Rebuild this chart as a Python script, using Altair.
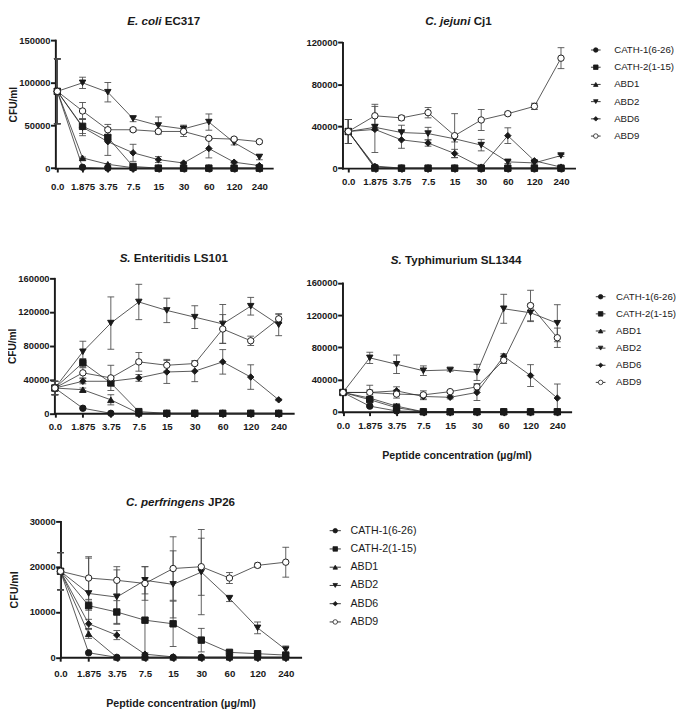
import altair as alt
import pandas as pd

X_LABELS = ["0.0", "1.875", "3.75", "7.5", "15", "30", "60", "120", "240"]
SERIES = ["CATH-1(6-26)", "CATH-2(1-15)", "ABD1", "ABD2", "ABD6", "ABD9"]

# ---------------- data (CFU/ml, mean and SD) ----------------
ecoli_mean = {
    "CATH-1(6-26)": [90000, 1000, 0, 0, 0, 0, 0, 0, 0],
    "CATH-2(1-15)": [90000, 49000, 36000, 2000, 0, 0, 0, 0, 0],
    "ABD1": [90000, 12000, 4500, 500, 0, 0, 0, 0, 0],
    "ABD2": [90000, 100000, 89000, 58000, 50000, 46000, 54000, 30000, 13000],
    "ABD6": [90000, 48000, 31000, 18000, 10000, 6000, 23000, 7000, 3000],
    "ABD9": [90000, 67000, 45000, 45000, 43000, 43000, 35000, 34000, 31000],
}
ecoli_sd = {
    "CATH-1(6-26)": [38000, 0, 0, 0, 0, 0, 0, 0, 0],
    "CATH-2(1-15)": [38000, 8500, 3000, 1000, 0, 0, 0, 0, 0],
    "ABD1": [38000, 1000, 1000, 0, 0, 0, 0, 0, 0],
    "ABD2": [38000, 6600, 11400, 3600, 10000, 4400, 9500, 2800, 3200],
    "ABD6": [38000, 10000, 16000, 10000, 3500, 1000, 11000, 1000, 1000],
    "ABD9": [38000, 10000, 6300, 2000, 1500, 6000, 1500, 1500, 1500],
}

jejuni_mean = {
    "CATH-1(6-26)": [35000, 1000, 0, 0, 0, 0, 0, 0, 0],
    "CATH-2(1-15)": [35000, 0, 0, 0, 0, 0, 0, 0, 0],
    "ABD1": [35000, 2000, 0, 0, 0, 0, 0, 0, 0],
    "ABD2": [35000, 39000, 34000, 33000, 28000, 22000, 6000, 5000, 12000],
    "ABD6": [35000, 37000, 27000, 24000, 14000, 1000, 31000, 7000, 1000],
    "ABD9": [35000, 50000, 48000, 53000, 31000, 46000, 52000, 59000, 105000],
}
jejuni_sd = {
    "CATH-1(6-26)": [11500, 0, 0, 0, 0, 0, 0, 0, 0],
    "CATH-2(1-15)": [11500, 0, 0, 0, 0, 0, 0, 0, 0],
    "ABD1": [11500, 0, 0, 0, 0, 0, 0, 0, 0],
    "ABD2": [11500, 3000, 7000, 6000, 3000, 5500, 1500, 1000, 1000],
    "ABD6": [11500, 22000, 8000, 3000, 4000, 1000, 7500, 1000, 500],
    "ABD9": [11500, 11000, 2000, 5000, 21000, 10000, 1500, 3000, 10000],
}

enteritidis_mean = {
    "CATH-1(6-26)": [30000, 6000, 0, 0, 0, 0, 0, 0, 0],
    "CATH-2(1-15)": [30000, 60000, 36000, 2000, 0, 0, 0, 0, 0],
    "ABD1": [30000, 28000, 16000, 0, 0, 0, 0, 0, 0],
    "ABD2": [30000, 73000, 107000, 132000, 122000, 114000, 106000, 127000, 105000],
    "ABD6": [30000, 38000, 38000, 42000, 49000, 50000, 61000, 43000, 16000],
    "ABD9": [30000, 48000, 42000, 61000, 57000, 59000, 100000, 86000, 112000],
}
enteritidis_sd = {
    "CATH-1(6-26)": [8000, 0, 0, 0, 0, 0, 0, 0, 0],
    "CATH-2(1-15)": [8000, 5000, 3000, 1000, 0, 0, 0, 0, 0],
    "ABD1": [8000, 2000, 6000, 0, 0, 0, 0, 0, 0],
    "ABD2": [8000, 12500, 31000, 21000, 14500, 13500, 23000, 10500, 13000],
    "ABD6": [8000, 3000, 5000, 4000, 13500, 12500, 14500, 14500, 1000],
    "ABD9": [8000, 6000, 15000, 11000, 7000, 2000, 17000, 5500, 5500],
}

typhimurium_mean = {
    "CATH-1(6-26)": [24000, 7000, 1000, 0, 0, 0, 0, 0, 0],
    "CATH-2(1-15)": [24000, 15000, 5000, 0, 0, 0, 0, 0, 0],
    "ABD1": [24000, 17000, 7000, 0, 0, 0, 0, 0, 0],
    "ABD2": [24000, 67000, 59000, 51000, 52000, 49000, 128000, 123000, 110000],
    "ABD6": [24000, 24000, 26000, 19000, 18000, 24000, 69000, 45000, 17000],
    "ABD9": [24000, 24000, 22000, 21000, 25000, 31000, 64000, 132000, 92000],
}
typhimurium_sd = {
    "CATH-1(6-26)": [2000, 1000, 500, 0, 0, 0, 0, 0, 0],
    "CATH-2(1-15)": [2000, 2000, 3000, 0, 0, 0, 0, 0, 0],
    "ABD1": [2000, 2000, 3000, 0, 0, 0, 0, 0, 0],
    "ABD2": [2000, 7000, 11500, 6000, 1500, 10000, 18000, 11000, 23000],
    "ABD6": [2000, 9000, 5000, 4000, 2000, 10000, 3000, 13500, 17500],
    "ABD9": [2000, 3000, 5000, 5000, 1500, 4000, 4000, 19000, 12000],
}

perfringens_mean = {
    "CATH-1(6-26)": [19000, 1000, 0, 0, 0, 0, 0, 0, 0],
    "CATH-2(1-15)": [19000, 11400, 10000, 8200, 7400, 3800, 1100, 800, 500],
    "ABD1": [19000, 5200, 0, 0, 0, 0, 0, 0, 0],
    "ABD2": [19000, 14100, 13300, 17000, 16100, 18800, 13000, 6500, 1700],
    "ABD6": [19000, 7400, 4900, 700, 100, 0, 0, 0, 0],
    "ABD9": [19000, 17500, 17000, 16300, 19600, 20000, 17500, 20300, 21000],
}
perfringens_sd = {
    "CATH-1(6-26)": [4100, 0, 0, 0, 0, 0, 0, 0, 0],
    "CATH-2(1-15)": [4100, 1000, 2500, 8000, 5000, 2600, 300, 300, 300],
    "ABD1": [4100, 1000, 0, 0, 0, 0, 0, 0, 0],
    "ABD2": [4100, 7800, 6000, 3000, 7400, 9400, 700, 1300, 800],
    "ABD6": [4100, 1000, 1000, 300, 0, 0, 0, 0, 0],
    "ABD9": [4100, 4700, 3000, 3700, 7000, 6300, 1200, 500, 3300],
}

# ---------------- style ----------------
FONT = "Liberation Sans"
INK = "#1a1a1a"
SHAPES = ["circle", "square", "triangle-up", "triangle-down", "diamond", "circle"]
FILLS = [INK, INK, INK, INK, INK, "white"]

BOLD_W = {" ": 278, ".": 278, "C": 722, "E": 667, "J": 556, "L": 611, "P": 667,
          "S": 667, "T": 611, "a": 556, "c": 556, "d": 611, "e": 556, "f": 333,
          "g": 611, "h": 611, "i": 278, "j": 278, "l": 278, "m": 889, "n": 611,
          "o": 611, "p": 611, "r": 389, "s": 556, "t": 333, "u": 611, "y": 556}


def text_w(s, size):
    return sum(BOLD_W.get(ch, 556) for ch in s) * size / 1000.0


def tidy(mean, sd):
    rows = []
    for s in SERIES:
        for i, (v, e) in enumerate(zip(mean[s], sd[s])):
            rows.append({"series": s, "idx": i, "value": v,
                         "lo": max(v - e, 0), "hi": v + e, "err": e})
    return pd.DataFrame(rows)


LABEL_EXPR = "[" + ",".join("'%s'" % t for t in X_LABELS) + "][datum.value]"


def panel(mean, sd, cell_left, axis_left, first, last, end, cell_w, height, ydom, yticks,
          yrange=None, xaxis_offset=0, ytitle=None, ytitle_pad=0, ytitle_size=10.5,
          xtitle=None, xtitle_pad=10, xlabel_pad=5,
          title=("", ""), title_top=-27):
    off = axis_left - cell_left
    step = (last - first) / 8.0
    d0 = -(first - axis_left) / step
    d1 = 8 + (end - last) / step
    df = tidy(mean, sd)
    errdf = df[df["err"] > 0]

    xs = alt.Scale(domain=[d0, d1], range=[off, end - cell_left], nice=False, zero=False)
    ys = alt.Scale(domain=ydom, range=yrange if yrange else [height, 0],
                   nice=False, zero=False)
    xkw = dict(values=list(range(9)), labelExpr=LABEL_EXPR, title=xtitle,
               titlePadding=xtitle_pad, titleFontSize=11,
               labelPadding=xlabel_pad, tickSize=4, labelFontSize=10)
    if xaxis_offset:
        xkw["offset"] = xaxis_offset
    ykw = dict(values=yticks, format="d", title=ytitle,
               titlePadding=ytitle_pad, titleFontSize=ytitle_size,
               tickSize=5, labelPadding=0.5, labelFontSize=9.7)
    if off > 0:
        ykw["offset"] = -off
    xaxis = alt.Axis(**xkw)
    yaxis = alt.Axis(**ykw)

    def X():
        return alt.X("idx:Q", scale=xs, axis=xaxis)

    def Y(field):
        return alt.Y(field + ":Q", scale=ys, axis=yaxis)

    shape = alt.Shape("series:N", scale=alt.Scale(domain=SERIES, range=SHAPES), legend=None)
    fill = alt.Fill("series:N", scale=alt.Scale(domain=SERIES, range=FILLS), legend=None)

    err = alt.Chart(errdf).mark_rule(color="#4a4a4a", strokeWidth=0.9).encode(
        x=X(), y=Y("lo"), y2="hi")
    cap_hi = alt.Chart(errdf).mark_tick(orient="horizontal", size=7, thickness=0.9,
                                        color="#4a4a4a", opacity=1).encode(x=X(), y=Y("hi"))
    cap_lo = alt.Chart(errdf).mark_tick(orient="horizontal", size=7, thickness=0.9,
                                        color="#4a4a4a", opacity=1).encode(x=X(), y=Y("lo"))
    line = alt.Chart(df).mark_line(color="#2a2a2a", strokeWidth=0.8).encode(
        x=X(), y=Y("value"), detail="series:N", order="idx:Q")
    pts = alt.Chart(df).mark_point(filled=True, opacity=1, stroke=INK, strokeWidth=1,
                                   size=44).encode(
        x=X(), y=Y("value"), shape=shape, fill=fill)

    it, b = title
    w_it = text_w(it, 12)
    w_sp = text_w(" ", 12)
    w_b = text_w(b, 12)
    center = (axis_left + end) / 2.0 - cell_left
    start = center - (w_it + w_sp + w_b) / 2.0
    tdf = pd.DataFrame({"it": [it], "b": [b]})
    t1 = alt.Chart(tdf).mark_text(align="left", baseline="top", font=FONT,
                                  fontSize=12, fontWeight="bold", fontStyle="italic",
                                  color=INK).encode(
        x=alt.value(start), y=alt.value(title_top), text="it:N")
    t2 = alt.Chart(tdf).mark_text(align="left", baseline="top", font=FONT,
                                  fontSize=12, fontWeight="bold", color=INK).encode(
        x=alt.value(start + w_it + w_sp), y=alt.value(title_top), text="b:N")

    return alt.layer(err, cap_hi, cap_lo, line, pts, t1, t2).properties(
        width=cell_w, height=height)


def legend(height, yr, line0, line1, mx, tx, fsize, width=90):
    ldf = pd.DataFrame({"series": SERIES})
    Y = alt.Y("series:N", scale=alt.Scale(type="point", domain=SERIES, range=yr, padding=0),
              axis=None)
    shape = alt.Shape("series:N", scale=alt.Scale(domain=SERIES, range=SHAPES), legend=None)
    fill = alt.Fill("series:N", scale=alt.Scale(domain=SERIES, range=FILLS), legend=None)
    rule = alt.Chart(ldf).mark_rule(color="#333333", strokeWidth=1).encode(
        x=alt.value(line0), x2=alt.value(line1), y=Y)
    pts = alt.Chart(ldf).mark_point(filled=True, opacity=1, stroke=INK, strokeWidth=0.8,
                                    size=22).encode(
        x=alt.value(mx), y=Y, shape=shape, fill=fill)
    txt = alt.Chart(ldf).mark_text(align="left", baseline="middle", font=FONT,
                                   fontSize=fsize, color=INK).encode(
        x=alt.value(tx), y=Y, text="series:N")
    return alt.layer(rule, pts, txt).properties(width=width, height=height)


XL = 53.0    # page x of the first grid column
C1 = 342.0   # page x of the second grid column
C2 = 587.0   # page x of the third grid column
GAP = 8
SHIFT = 3    # extra nudge of the second and third grid columns
COL0_W = C1 - GAP - XL + 6 + SHIFT
XT = "Peptide concentration (\u00b5g/ml)"

p1 = panel(ecoli_mean, ecoli_sd, XL, 54, 56, 265, 278.3, COL0_W, 138,
           [0, 150000], [0, 50000, 100000, 150000], yrange=[132.4, 0], xaxis_offset=-5.6,
           ytitle="CFU/ml", xlabel_pad=10.5, title=("E. coli", "EC317"), title_top=-24.8)
p2 = panel(jejuni_mean, jejuni_sd, C1, C1, 348, 568, 582, 240, 138,
           [0, 120000], [0, 40000, 80000, 120000], yrange=[132.4, 2.4], xaxis_offset=-5.6,
           xlabel_pad=4.6, title=("C. jejuni", "Cj1"), title_top=-24.8)
l1 = legend(138, [10.2, 99.2], 595 - C2, 605 - C2, 600 - C2, 619 - C2, 10)

p3 = panel(enteritidis_mean, enteritidis_sd, XL, XL, XL + 0.5, 285, 300, COL0_W - 1,
           142.6, [0, 160000], [0, 40000, 80000, 120000, 160000], yrange=[139.6, 0],
           xaxis_offset=-3, ytitle="CFU/ml",
           xlabel_pad=4.7, title=("S.", "Enteritidis LS101"), title_top=-25.5)
p4 = panel(typhimurium_mean, typhimurium_sd, C1, C1, C1 + 0.5, 564.2, 578, 241, 138,
           [0, 160000], [0, 40000, 80000, 120000, 160000], yrange=[138, 4.8],
           xtitle=XT, xtitle_pad=20, xlabel_pad=5.6,
           title=("S.", "Typhimurium SL1344"), title_top=-23.9)
l2 = legend(142.6, [19, 107.6], 600 - C2, 610 - C2, 605 - C2, 621 - C2, 10)

p5 = panel(perfringens_mean, perfringens_sd, XL, 59.3, 59.3, 292.3, 307.7, COL0_W - 1,
           140.6, [0, 30000], [0, 10000, 20000, 30000], ytitle="CFU/ml", ytitle_pad=10,
           ytitle_size=11, xtitle=XT, xtitle_pad=20.5, xlabel_pad=7.7,
           title=("C. perfringens", "JP26"), title_top=-24.9)
l3 = legend(140.6, [9.6, 104], 331.7 - C1 - SHIFT, 343.3 - C1 - SHIFT, 337.5 - C1 - SHIFT,
            353.3 - C1 - SHIFT, 11, width=200)

chart = alt.concat(
    p1, p2, l1, p3, p4, l2, p5, l3,
    columns=3,
    spacing={"row": 108.4, "column": GAP},
    align={"row": "each", "column": "each"},
    bounds="flush",
).properties(
    padding={"left": 0, "top": -5, "right": 0, "bottom": 0}
).configure_view(stroke=None).configure_axis(
    domainColor=INK, domainWidth=2, domainCap="square", tickColor=INK, tickWidth=2,
    labelColor=INK, labelFont=FONT, labelFontWeight="bold",
    titleFont=FONT, titleFontWeight="bold", titleColor=INK,
    grid=False, labelFlush=False, labelOverlap=False, labelBound=False
)

chart.save("out.html", embed_options={"renderer": "svg", "actions": False})
